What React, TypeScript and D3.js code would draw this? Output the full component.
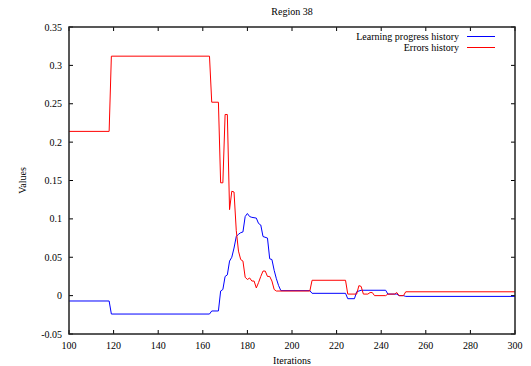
import React from "react";
import * as d3 from "d3";

const title = "Region 38";
const xLabel = "Iterations";
const yLabel = "Values";
const xTicks = [100, 120, 140, 160, 180, 200, 220, 240, 260, 280, 300];
const yTicks = [-0.05, 0, 0.05, 0.1, 0.15, 0.2, 0.25, 0.3, 0.35];
const yTickLabels = ["-0.05", "0", "0.05", "0.1", "0.15", "0.2", "0.25", "0.3", "0.35"];

const lpIters = [100, 118, 119, 163, 164, 167, 168, 169, 170, 171, 172, 173, 174, 175, 176, 177, 178, 179, 180, 181, 182, 184, 185, 186, 187, 189, 190, 191, 192, 193, 194, 195, 208, 209, 224, 225, 228, 229, 231, 242, 243, 247, 248, 250, 251, 300];
const lpValues = [-0.007, -0.007, -0.024, -0.024, -0.02, -0.02, 0.006, 0.008, 0.025, 0.027, 0.045, 0.05, 0.062, 0.077, 0.08, 0.082, 0.083, 0.103, 0.107, 0.103, 0.102, 0.101, 0.094, 0.092, 0.077, 0.075, 0.048, 0.047, 0.033, 0.022, 0.013, 0.0065, 0.0065, 0.003, 0.003, -0.004, -0.004, 0.005, 0.007, 0.007, 0.002, 0.002, 0.0, 0.0, -0.001, -0.001];

const errIters = [100, 118, 119, 163, 164, 167, 168, 169, 170, 171, 172, 173, 174, 175, 176, 177, 178, 179, 180, 181, 182, 183, 184, 185, 186, 187, 188, 189, 190, 191, 192, 193, 208, 209, 224, 225, 229, 230, 231, 232, 234, 235, 236, 237, 242, 243, 246, 247, 248, 250, 251, 300];
const errValues = [0.214, 0.214, 0.312, 0.312, 0.252, 0.252, 0.147, 0.147, 0.236, 0.236, 0.112, 0.136, 0.135, 0.085, 0.058, 0.047, 0.045, 0.024, 0.021, 0.023, 0.019, 0.019, 0.01, 0.017, 0.025, 0.032, 0.032, 0.025, 0.025, 0.019, 0.008, 0.006, 0.006, 0.02, 0.02, 0.002, 0.002, 0.013, 0.012, 0.002, 0.002, 0.004, 0.004, 0.0, 0.0, 0.002, 0.002, 0.004, 0.0, 0.0, 0.005, 0.005];

const seriesNames = ["Learning progress history", "Errors history"];
const seriesColors = ["#0000ff", "#ff0000"];

export default function App() {
  const W = 531, H = 366;
  const left = 69, right = 515, top = 27, bottom = 334;
  const x = d3.scaleLinear().domain([100, 300]).range([left, right]);
  const y = d3.scaleLinear().domain([-0.05, 0.35]).range([bottom, top]);
  const line = d3.line<[number, number]>().x(d => x(d[0])).y(d => y(d[1]));
  const lp = lpIters.map((it, i) => [it, lpValues[i]] as [number, number]);
  const er = errIters.map((it, i) => [it, errValues[i]] as [number, number]);
  const font = '"Liberation Serif", "Times New Roman", Times, serif';
  const tl = 4;
  const ts: React.CSSProperties = { fontFamily: font, fontSize: "10px" };
  return (
    <svg width={W} height={H} style={{ position: "absolute", left: 0, top: 0, background: "#fff", fontFamily: font }}>
      <rect x={0} y={0} width={W} height={H} fill="#fff" />
      <text x={(left + right) / 2} y={15} textAnchor="middle" style={ts} fill="#000">{title}</text>
      {xTicks.map(t => (
        <g key={"x" + t}>
          <line x1={x(t)} x2={x(t)} y1={bottom} y2={bottom - tl} stroke="#000" />
          <line x1={x(t)} x2={x(t)} y1={top} y2={top + tl} stroke="#000" />
          <text x={x(t)} y={349} textAnchor="middle" style={ts} fill="#000">{t}</text>
        </g>
      ))}
      {yTicks.map((t, i) => (
        <g key={"y" + i}>
          <line x1={left} x2={left + tl} y1={y(t)} y2={y(t)} stroke="#000" />
          <line x1={right} x2={right - tl} y1={y(t)} y2={y(t)} stroke="#000" />
          <text x={62} y={y(t) + 3.5} textAnchor="end" style={ts} fill="#000">{yTickLabels[i]}</text>
        </g>
      ))}
      <text x={(left + right) / 2} y={364} textAnchor="middle" style={ts} fill="#000">{xLabel}</text>
      <text transform={`translate(26,${(top + bottom) / 2}) rotate(-90)`} textAnchor="middle" style={ts} fill="#000">{yLabel}</text>
      <path d={line(lp) || ""} fill="none" stroke={seriesColors[0]} strokeWidth={1} />
      <path d={line(er) || ""} fill="none" stroke={seriesColors[1]} strokeWidth={1} />
      {seriesNames.map((n, i) => (
        <g key={n}>
          <text x={459} y={40 + i * 11} textAnchor="end" style={ts} fill="#000">{n}</text>
          <line x1={467} x2={495} y1={36.5 + i * 11} y2={36.5 + i * 11} stroke={seriesColors[i]} strokeWidth={1} />
        </g>
      ))}
      <rect x={left} y={top} width={right - left} height={bottom - top} fill="none" stroke="#222" strokeWidth={1.5} />
    </svg>
  );
}
